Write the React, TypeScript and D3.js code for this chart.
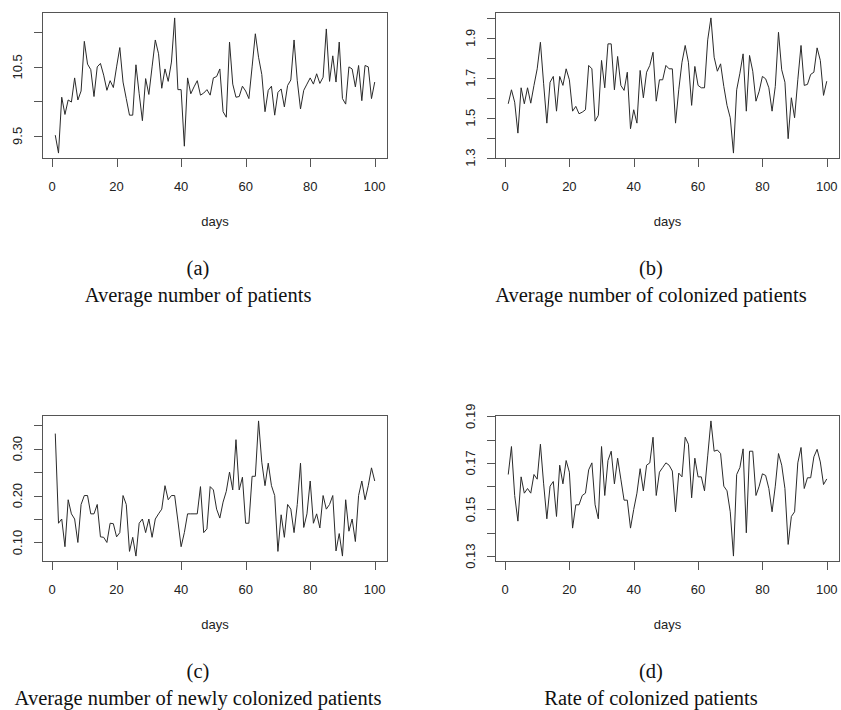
import React, { useEffect, useRef } from "react";
import * as d3 from "d3";

// daily averages, days 1..100
const patients = [
  9.51, 9.25, 10.06, 9.81, 10.02, 9.99, 10.34, 10.02, 10.15, 10.87,
  10.54, 10.46, 10.07, 10.5, 10.55, 10.38, 10.16, 10.3, 10.2, 10.5,
  10.78, 10.28, 10.04, 9.8, 9.8, 10.53, 10.11, 9.72, 10.33, 10.1,
  10.5, 10.89, 10.69, 10.19, 10.47, 10.29, 10.57, 11.21, 10.17, 10.17,
  9.35, 10.34, 10.11, 10.21, 10.3, 10.09, 10.12, 10.17, 10.09, 10.34,
  10.36, 10.47, 9.85, 9.77, 10.86, 10.25, 10.06, 10.07, 10.22, 10.15,
  10.04, 10.5, 10.98, 10.64, 10.39, 9.85, 10.16, 10.22, 9.8, 10.13,
  10.18, 9.92, 10.23, 10.31, 10.89, 10.3, 9.89, 10.16, 10.25, 10.34,
  10.25, 10.4, 10.26, 10.35, 11.05, 10.29, 10.66, 10.28, 10.86, 10.04,
  9.96, 10.5, 10.47, 10.21, 10.52, 10.01, 10.52, 10.5, 10.04, 10.28,
];

const colonized = [
  1.57, 1.64, 1.578, 1.423, 1.65, 1.57, 1.65, 1.573, 1.662, 1.745,
  1.878, 1.67, 1.473, 1.678, 1.707, 1.533, 1.707, 1.662, 1.745, 1.69,
  1.533, 1.557, 1.52, 1.528, 1.54, 1.762, 1.745, 1.483, 1.512, 1.787,
  1.65, 1.87, 1.87, 1.64, 1.807, 1.662, 1.637, 1.728, 1.445, 1.54,
  1.473, 1.737, 1.6, 1.728, 1.762, 1.828, 1.583, 1.69, 1.69, 1.762,
  1.745, 1.745, 1.473, 1.64, 1.778, 1.862, 1.778, 1.562, 1.757, 1.662,
  1.65, 1.65, 1.89, 2.0, 1.803, 1.733, 1.77, 1.657, 1.562, 1.5,
  1.323, 1.64, 1.723, 1.82, 1.533, 1.812, 1.733, 1.583, 1.633, 1.707,
  1.695, 1.65, 1.533, 1.657, 1.928, 1.74, 1.678, 1.395, 1.6, 1.5,
  1.69, 1.862, 1.662, 1.667, 1.717, 1.728, 1.85, 1.787, 1.612, 1.683,
];

const newlyColonized = [
  0.332, 0.141, 0.15, 0.091, 0.191, 0.161, 0.15, 0.1, 0.181, 0.2,
  0.2, 0.161, 0.161, 0.181, 0.112, 0.111, 0.1, 0.141, 0.14, 0.112,
  0.121, 0.2, 0.181, 0.081, 0.111, 0.071, 0.141, 0.15, 0.121, 0.15,
  0.111, 0.15, 0.161, 0.171, 0.221, 0.191, 0.2, 0.2, 0.146, 0.091,
  0.121, 0.161, 0.161, 0.161, 0.161, 0.219, 0.121, 0.129, 0.219, 0.212,
  0.171, 0.152, 0.186, 0.209, 0.25, 0.212, 0.319, 0.212, 0.239, 0.141,
  0.141, 0.241, 0.241, 0.359, 0.271, 0.221, 0.269, 0.221, 0.2, 0.081,
  0.159, 0.111, 0.181, 0.171, 0.121, 0.181, 0.269, 0.132, 0.161, 0.231,
  0.141, 0.161, 0.131, 0.2, 0.171, 0.181, 0.2, 0.082, 0.119, 0.071,
  0.191, 0.124, 0.15, 0.102, 0.2, 0.231, 0.191, 0.221, 0.259, 0.231,
];

const colonizedRate = [
  0.165, 0.177, 0.156, 0.145, 0.164, 0.157, 0.159, 0.157, 0.165, 0.163,
  0.178, 0.161, 0.146, 0.16, 0.162, 0.147, 0.169, 0.161, 0.171, 0.166,
  0.142, 0.152, 0.152, 0.156, 0.157, 0.167, 0.17, 0.152, 0.146, 0.177,
  0.156, 0.171, 0.175, 0.161, 0.172, 0.163, 0.154, 0.154, 0.142, 0.15,
  0.157, 0.1675, 0.158, 0.169, 0.17, 0.181, 0.156, 0.166, 0.168, 0.17,
  0.169, 0.1665, 0.149, 0.1656, 0.164, 0.181, 0.178, 0.155, 0.172, 0.164,
  0.164, 0.158, 0.173, 0.188, 0.175, 0.1755, 0.174, 0.16, 0.158, 0.149,
  0.13, 0.165, 0.168, 0.176, 0.14, 0.175, 0.175, 0.156, 0.16, 0.1653,
  0.1646, 0.159, 0.149, 0.16, 0.174, 0.169, 0.159, 0.135, 0.147, 0.149,
  0.17, 0.1766, 0.159, 0.1636, 0.1636, 0.1726, 0.1758, 0.1704, 0.1607, 0.1631,
];

const xTicks = [0, 20, 40, 60, 80, 100];

const patientsTicks = [9.5, 10, 10.5, 11];
const patientsLabels = ["9.5", "", "10.5", ""];
const colonizedTicks = [1.3, 1.4, 1.5, 1.6, 1.7, 1.8, 1.9, 2.0];
const colonizedLabels = ["1.3", "", "1.5", "", "1.7", "", "1.9", ""];
const newlyTicks = [0.1, 0.15, 0.2, 0.25, 0.3, 0.35];
const newlyLabels = ["0.10", "", "0.20", "", "0.30", ""];
const rateTicks = [0.13, 0.14, 0.15, 0.16, 0.17, 0.18, 0.19];
const rateLabels = ["0.13", "", "0.15", "", "0.17", "", "0.19"];

const letters = ["(a)", "(b)", "(c)", "(d)"];
const captions = [
  "Average number of patients",
  "Average number of colonized patients",
  "Average number of newly colonized patients",
  "Rate of colonized patients",
];

const panels = [
  { values: patients, ticks: patientsTicks, labels: patientsLabels },
  { values: colonized, ticks: colonizedTicks, labels: colonizedLabels },
  { values: newlyColonized, ticks: newlyTicks, labels: newlyLabels },
  { values: colonizedRate, ticks: rateTicks, labels: rateLabels },
];

const width = 841;
const height = 710;

// R style range: extend 4% on each side
const padRange = ([lo, hi]) => {
  const d = (hi - lo) * 0.04;
  return [lo - d, hi + d];
};

const sans = "'Liberation Sans', Arial, Helvetica, sans-serif";
const serif = "'Liberation Serif', 'Times New Roman', serif";

const App = () => {
  const svgRef = useRef();

  useEffect(() => {
    const svg = d3.select(svgRef.current);
    svg.selectAll("*").remove();

    const cols = [
      { left: 42.5, right: 387.5, center: 198 },
      { left: 495.5, right: 839.5, center: 651 },
    ];
    const rowTop = [12.5, 415.5];
    const boxH = 146;

    panels.forEach((p, k) => {
      const col = cols[k % 2];
      const top = rowTop[Math.floor(k / 2)];
      const bottom = top + boxH;
      const g = svg.append("g");

      const x = d3
        .scaleLinear()
        .domain(padRange([1, p.values.length]))
        .range([col.left, col.right]);
      const y = d3
        .scaleLinear()
        .domain(padRange(d3.extent(p.values)))
        .range([bottom, top]);

      // box
      g.append("rect")
        .attr("x", col.left)
        .attr("y", top)
        .attr("width", col.right - col.left)
        .attr("height", boxH)
        .attr("fill", "none")
        .attr("stroke", "#555")
        .attr("stroke-width", 1);

      // x axis
      xTicks.forEach((t) => {
        const xp = Math.round(x(t)) + 0.5;
        g.append("line")
          .attr("x1", xp)
          .attr("x2", xp)
          .attr("y1", bottom)
          .attr("y2", bottom + 8.5)
          .attr("stroke", "#555");
        g.append("text")
          .attr("x", x(t))
          .attr("y", bottom + 32.5)
          .attr("text-anchor", "middle")
          .style("font-family", sans)
          .style("font-size", "13px")
          .attr("fill", "#222")
          .text(t);
      });

      // y axis
      p.ticks.forEach((t, i) => {
        const yp = Math.round(y(t)) + 0.5;
        g.append("line")
          .attr("x1", col.left - 8.5)
          .attr("x2", col.left)
          .attr("y1", yp)
          .attr("y2", yp)
          .attr("stroke", "#555");
        if (p.labels[i]) {
          g.append("text")
            .attr("transform", `translate(${col.left - 21},${y(t)}) rotate(-90)`)
            .attr("text-anchor", "middle")
            .style("font-family", sans)
            .style("font-size", "13px")
            .attr("fill", "#222")
            .text(p.labels[i]);
        }
      });

      const line = d3
        .line()
        .x((d, i) => x(i + 1))
        .y((d) => y(d));

      g.append("path")
        .datum(p.values)
        .attr("d", line)
        .attr("fill", "none")
        .attr("stroke", "#2a2a2a")
        .attr("stroke-width", 1)
        .attr("stroke-linejoin", "miter");

      g.append("text")
        .attr("x", (col.left + col.right) / 2)
        .attr("y", bottom + 67)
        .attr("text-anchor", "middle")
        .style("font-family", sans)
        .style("font-size", "13px")
        .attr("fill", "#222")
        .text("days");

      g.append("text")
        .attr("x", col.center)
        .attr("y", bottom + 116)
        .attr("text-anchor", "middle")
        .style("font-family", serif)
        .style("font-size", "20.5px")
        .attr("fill", "#111")
        .text(letters[k]);

      g.append("text")
        .attr("x", col.center)
        .attr("y", bottom + 143.5)
        .attr("text-anchor", "middle")
        .style("font-family", serif)
        .style("font-size", "20.5px")
        .attr("fill", "#111")
        .text(captions[k]);
    });
  }, []);

  return (
    <svg
      ref={svgRef}
      width={width}
      height={height}
      style={{ position: "absolute", left: 0, top: 0, background: "#fff" }}
    />
  );
};

export default App;
